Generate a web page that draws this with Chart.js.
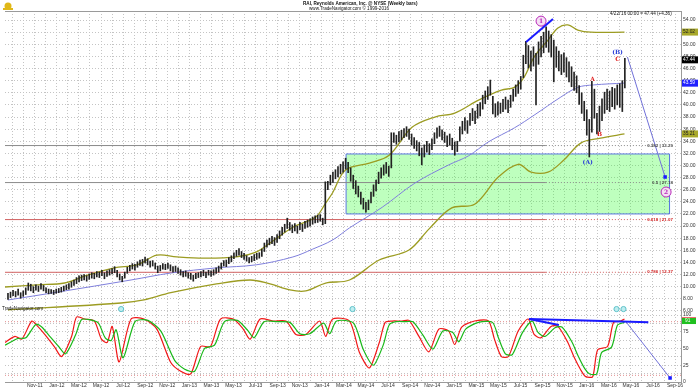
<!DOCTYPE html>
<html>
<head>
<meta charset="utf-8">
<script src="https://cdn.jsdelivr.net/npm/chart.js@4.4.1/dist/chart.umd.min.js"></script>
<style>
html, body { margin: 0; padding: 0; background: #fff; }
</style>
</head>
<body>
<canvas id="myChart" width="700" height="391"></canvas>
<script>
// x unit = months after Nov-11 (Nov-11 = 0, Jan-12 = 2 ...)
var tickLabels = ['Nov-11','Jan-12','Mar-12','May-12','Jul-12','Sep-12','Nov-12','Jan-13','Mar-13','May-13',
    'Jul-13','Sep-13','Nov-13','Jan-14','Mar-14','May-14','Jul-14','Sep-14','Nov-14','Jan-15',
    'Mar-15','May-15','Jul-15','Sep-15','Nov-15','Jan-16','Mar-16','May-16','Jul-16','Sep-16']

// weekly bars, first one mid Sep-11, last one 4/22/16
var firstBar = -2.43
var weekStep = 12 / 52.18
var lows = [
    7.9, 8.2, 8.5, 8.3, 8.6, 8.1, 8.4, 8.7, 9.4, 9.3,
    9.0, 9.4, 9.2, 9.6, 9.3, 9.0, 8.8, 8.9, 8.7, 8.9,
    9.0, 9.1, 9.3, 9.5, 9.6, 9.9, 10.2, 10.5, 10.8, 11.0,
    11.1, 10.9, 11.2, 11.4, 11.3, 11.6, 11.5, 11.8, 11.3, 11.7,
    11.9, 12.1, 12.3, 11.6, 11.1, 10.8, 11.4, 12.2, 12.6, 12.9,
    12.7, 13.2, 13.5, 13.4, 13.9, 13.6, 13.2, 13.4, 12.9, 12.3,
    12.6, 12.9, 12.8, 13.0, 12.6, 12.4, 12.5, 12.2, 11.9, 11.6,
    11.7, 11.4, 11.2, 10.9, 11.3, 11.5, 11.6, 11.8, 11.5, 11.9,
    11.7, 11.9, 12.2, 12.4, 12.9, 13.4, 13.3, 13.8, 14.1, 14.6,
    15.0, 15.2, 14.8, 14.5, 14.2, 13.9, 14.1, 14.3, 14.5, 14.7,
    15.0, 15.8, 16.5, 16.9, 17.1, 16.8, 17.3, 17.9, 18.5, 19.0,
    19.6, 19.3, 18.9, 19.2, 18.8, 19.4, 19.1, 19.6, 19.8, 20.0,
    20.3, 20.5, 20.6, 20.8, 20.2, 20.4, 26.0, 26.8, 27.2, 27.8,
    28.1, 28.6, 28.9, 29.4, 28.8, 27.4, 26.2, 25.3, 24.8, 23.6,
    22.8, 22.3, 22.7, 23.8, 24.9, 25.8, 27.0, 27.9, 28.4, 28.7,
    28.2, 29.6, 33.8, 33.5, 33.9, 34.2, 34.6, 34.8, 34.3, 33.4,
    32.8, 32.4, 31.6, 30.1, 31.4, 32.2, 31.8, 32.6, 33.6, 34.5,
    34.8, 34.2, 33.8, 33.1, 33.4, 32.6, 31.7, 32.3, 34.0, 35.2,
    35.8, 35.3, 36.6, 37.4, 36.9, 37.8, 38.2, 39.3, 40.2, 40.9,
    41.6, 38.5, 38.0, 38.3, 38.6, 38.9, 39.3, 38.7, 39.6, 40.6,
    41.4, 41.9, 42.6, 44.5, 46.8, 46.1, 45.6, 46.4, 40.0, 46.7,
    47.9, 48.6, 49.5, 48.7, 47.9, 43.8, 46.2, 45.6, 45.0, 45.4,
    44.6, 43.8, 43.0, 42.4, 42.0, 40.1, 38.6, 37.4, 35.0, 31.4,
    35.5, 37.8, 35.2, 35.6, 37.4, 38.6, 39.2, 38.9, 39.7, 39.3,
    40.0, 39.6, 38.9, 42.8]
var highs = [
    8.9, 9.1, 9.4, 9.2, 9.6, 9.0, 9.3, 9.8, 10.6, 10.4,
    10.0, 10.3, 10.1, 10.5, 10.2, 9.8, 9.6, 9.5, 9.4, 9.6,
    9.7, 9.9, 10.1, 10.3, 10.5, 10.8, 11.1, 11.5, 11.8, 11.9,
    12.0, 11.8, 12.1, 12.3, 12.2, 12.5, 12.4, 12.7, 12.3, 12.6,
    12.8, 13.0, 13.3, 12.7, 12.1, 11.7, 12.4, 13.2, 13.5, 13.8,
    13.7, 14.1, 14.4, 14.5, 14.9, 14.6, 14.2, 14.3, 13.9, 13.4,
    13.5, 13.8, 13.7, 13.9, 13.6, 13.3, 13.4, 13.1, 12.8, 12.5,
    12.6, 12.3, 12.2, 11.9, 12.2, 12.3, 12.5, 12.7, 12.4, 12.7,
    12.6, 12.8, 13.1, 13.4, 13.9, 14.3, 14.4, 14.8, 15.1, 15.6,
    16.0, 16.3, 15.8, 15.5, 15.1, 14.8, 15.0, 15.3, 15.5, 15.6,
    16.2, 17.2, 17.7, 18.0, 18.3, 18.1, 18.6, 19.2, 19.8, 20.3,
    21.3, 20.6, 20.2, 20.4, 20.0, 20.6, 20.3, 20.8, 21.0, 21.2,
    21.5, 21.7, 21.8, 21.9, 21.3, 27.3, 27.4, 28.4, 28.9, 29.3,
    29.8, 30.2, 30.6, 31.2, 30.5, 29.6, 28.4, 27.5, 26.6, 25.6,
    24.6, 23.9, 24.3, 25.6, 26.8, 27.6, 28.9, 29.6, 30.1, 30.5,
    29.9, 35.4, 35.4, 35.0, 35.6, 35.8, 36.1, 36.4, 36.0, 35.2,
    34.6, 34.1, 33.8, 32.9, 33.4, 34.0, 33.6, 34.4, 35.4, 36.2,
    36.5, 35.9, 35.5, 34.9, 35.2, 34.5, 33.9, 34.0, 36.4, 37.3,
    37.9, 37.4, 38.6, 39.4, 39.0, 40.1, 40.4, 41.6, 42.3, 43.0,
    44.1, 41.4, 40.2, 40.5, 40.3, 40.9, 41.3, 40.8, 41.6, 42.6,
    43.3, 44.0, 44.7, 48.2, 50.5, 49.8, 48.9, 49.6, 48.5, 50.4,
    51.3, 52.0, 52.9, 52.2, 51.6, 50.7, 49.6, 48.9, 48.3, 48.6,
    47.8, 47.1, 46.3, 45.4, 44.8, 43.2, 42.0, 40.6, 39.2, 37.6,
    43.9, 42.6, 38.6, 39.8, 41.0, 42.1, 42.6, 42.3, 42.9, 42.7,
    43.3, 43.5, 44.0, 47.7]

// moving average and the two bands
var maX = [-2.43, 2.07, 8.72, 12.32, 16.46, 20.05, 23.38, 25.18, 26.98, 28.51, 31.47, 34.44, 37.5, 39.3, 41.1, 43.44, 45.23, 47.66, 49.19, 50.63, 53.42]
var maY = [7.8, 9.1, 11.1, 12.25, 13.1, 13.6, 14.9, 16.2, 17.7, 19.7, 23.1, 27.1, 30.1, 31.6, 33.9, 36.2, 38.3, 41.3, 42.9, 43.3, 43.6]
var upX = [-2.7, 0.27, 2.7, 4.77, 7.19, 9.26, 11.06, 12.86, 15.29, 18.26, 20.05, 21.31, 23.38, 25.45, 26.35, 26.98, 28.15, 30.31, 32.1, 34.17, 36.24, 38.04, 40.2, 42.27, 43.44, 44.33, 45.23, 46.49, 47.39, 48.29, 49.19, 50.36, 53.42]
var upY = [9.94, 10.3, 10.6, 11.9, 13.1, 13.6, 15.2, 14.9, 14.7, 14.9, 15.7, 17.2, 19.8, 21.5, 23.8, 25.5, 29.25, 30.4, 31.7, 36.3, 38.0, 38.65, 40.8, 42.45, 42.9, 44.6, 47.9, 50.7, 52.7, 53.2, 52.35, 52.0, 52.0]
var loX = [-2.43, 7.82, 9.89, 12.32, 16.46, 19.51, 21.31, 23.11, 24.55, 26.35, 28.51, 31.2, 33.9, 35.7, 37.77, 39.84, 41.99, 43.79, 44.96, 46.49, 47.93, 49.46, 51.26, 53.42]
var loY = [6.15, 7.3, 7.8, 9.0, 10.45, 11.1, 10.45, 9.45, 9.3, 10.6, 11.1, 14.4, 16.05, 19.5, 23.0, 23.6, 28.1, 30.2, 28.9, 28.9, 30.9, 33.7, 34.5, 35.2]

// stochastic, fast (red) and slow (green)
var kX = [-2.70, -1.80, -1.17, -0.27, 0.27, 0.90, 1.80, 2.43, 3.33, 3.78,
    4.50, 5.40, 6.03, 6.56, 7.01, 7.64, 8.72, 9.89, 11.06, 12.32,
    13.22, 14.12, 15.02, 15.92, 16.82, 17.99, 18.88, 19.51, 20.41, 21.58,
    22.75, 23.65, 24.55, 25.81, 26.35, 26.98, 28.51, 29.41, 30.31, 31.21,
    31.74, 32.37, 33.27, 33.90, 34.80, 35.70, 36.60, 37.50, 38.04, 38.67,
    39.84, 41.10, 41.64, 42.27, 42.90, 43.79, 44.69, 45.23, 45.86, 46.76,
    47.39, 48.29, 48.83, 49.46, 49.91, 50.54, 50.99, 51.89, 52.43, 53.06, 53.42]
var kVal = [59, 68, 64, 91, 83, 71, 52, 38, 68, 97,
    94, 91, 64, 59, 83, 30, 94, 94, 79, 29,
    16, 12, 53, 53, 94, 94, 79, 64, 94, 91,
    91, 71, 71, 91, 68, 94, 91, 44, 21, 59,
    89, 91, 91, 92, 68, 45, 79, 76, 56, 82,
    91, 91, 64, 38, 38, 76, 94, 71, 66, 83,
    83, 59, 38, 18, 8, 8, 48, 53, 89, 91, 94]
var dX = [-2.70, -1.53, -0.81, 0.09, 0.63, 1.26, 2.16, 2.79, 3.69, 4.23,
    4.95, 5.76, 6.38, 6.92, 7.37, 8.00, 9.08, 10.25, 11.42, 12.68,
    13.58, 14.48, 15.38, 16.28, 17.18, 18.35, 19.24, 19.87, 20.77, 21.94,
    23.11, 24.01, 24.91, 26.17, 26.71, 27.34, 28.87, 29.77, 30.67, 31.56,
    32.10, 32.73, 33.63, 34.26, 35.16, 36.06, 36.96, 37.86, 38.40, 39.03,
    40.20, 41.46, 42.00, 42.63, 43.26, 44.15, 45.05, 45.59, 46.22, 47.12,
    47.75, 48.65, 49.19, 49.82, 50.27, 50.90, 51.35, 52.25, 52.79, 53.42]
var dVal = [55, 65, 66, 86, 82, 70, 53, 42, 70, 93,
    93, 88, 66, 62, 78, 36, 90, 92, 76, 32,
    19, 16, 50, 55, 90, 92, 78, 66, 90, 90,
    89, 72, 72, 88, 72, 91, 88, 48, 25, 55,
    85, 90, 90, 90, 70, 49, 76, 74, 60, 79,
    89, 89, 66, 42, 41, 73, 91, 74, 68, 81,
    82, 60, 40, 20, 12, 12, 44, 52, 85, 89]

// fibonacci levels and the green zone
var fibNames = ['0.382', '0.5', '0.618', '0.786']
var fibLevels = [33.29, 27.18, 21.07, 12.37]
var zoneX = [28.2, 57.5]
var zoneY = [22.0, 31.9]

// drawn trend lines / projections
var topLineX = [44.51, 46.94], topLineY = [50.37, 54.17]
var projX = [53.69, 57.1], projY = [47.9, 28.1]
var oscLineX = [44.78, 55.58], oscLineY = [94, 89]
var oscLine2X = [44.78, 47.48], oscLine2Y = [94, 85]
var oscProjX = [53.5, 57.55], oscProjY = [91, 6]
var signalX = [7.82, 28.78, 52.7, 53.33]

// wave labels
var waveText = ['A', 'B', 'C', '(A)', '(B)']
var waveX = [50.54, 51.17, 52.79, 50.09, 52.79]
var waveY = [44.26, 35.19, 47.56, 30.57, 48.72]
var circleText = ['1', '2']
var circleX = [45.86, 57.19]
var circleY = [53.83, 25.62]

// last values shown on the axis
var badgeValues = [52.02, 47.44, 43.59, 35.21]
var oscBadgeValues = [95, 91]

var xMin = -2.7, xMax = 58.54
var priceMin = 5.32, priceMax = 55.5

function pts(xs, ys) {
    return xs.map(function (x, i) { return { x: x, y: ys[i] } })
}
function flat(x0, x1, v) {
    return [{ x: x0, y: v }, { x: x1, y: v }]
}

var bars = lows.map(function (l, i) {
    return { x: firstBar + i * weekStep, y: [l, highs[i]] }
})

var fibColor = ['#8a8a8a', '#8a8a8a', '#d06060', '#d06060']
var fibText = ['#444', '#444', '#d02020', '#d02020']

var datasets = [
    { type: 'line', data: flat(zoneX[0], zoneX[1], zoneY[1]), yAxisID: 'y', borderWidth: 0, pointRadius: 0,
      fill: { target: { value: zoneY[0] } }, backgroundColor: 'rgba(40,255,40,0.3)', order: 20 },
    { type: 'line', data: [{ x: zoneX[0], y: zoneY[0] }, { x: zoneX[0], y: zoneY[1] }, { x: zoneX[1], y: zoneY[1] }, { x: zoneX[1], y: zoneY[0] }, { x: zoneX[0], y: zoneY[0] }],
      yAxisID: 'y', borderColor: '#5a78e0', borderWidth: 1, pointRadius: 0, fill: false, order: 19 },
    { type: 'bar', data: bars, yAxisID: 'y', backgroundColor: '#222', barThickness: 1, grouped: false, order: 1 },
    { type: 'line', data: pts(maX, maY), yAxisID: 'y', borderColor: '#7f7fdc', borderWidth: 1, pointRadius: 0, tension: 0.35, order: 5 },
    { type: 'line', data: pts(upX, upY), yAxisID: 'y', borderColor: '#9c9c22', borderWidth: 1.3, pointRadius: 0, tension: 0.35, order: 5 },
    { type: 'line', data: pts(loX, loY), yAxisID: 'y', borderColor: '#9c9c22', borderWidth: 1.3, pointRadius: 0, tension: 0.35, order: 5 },
    { type: 'line', data: pts(topLineX, topLineY), yAxisID: 'y', borderColor: '#1a1aff', borderWidth: 2, pointRadius: 0, order: 0 },
    { type: 'line', data: pts(projX, projY), yAxisID: 'y', borderColor: '#7070d8', borderWidth: 1, pointRadius: [0, 2.5],
      pointStyle: 'rect', pointBackgroundColor: '#1a1aff', pointBorderWidth: 0, order: 0 },
    { type: 'line', data: pts(kX, kVal), yAxisID: 'y2', borderColor: '#f01818', borderWidth: 1.2, pointRadius: 0, tension: 0.25, order: 3 },
    { type: 'line', data: pts(dX, dVal), yAxisID: 'y2', borderColor: '#18b818', borderWidth: 1.2, pointRadius: 0, tension: 0.25, order: 2 },
    { type: 'line', data: flat(xMin, xMax, 90), yAxisID: 'y2', borderColor: '#e08a8a', borderWidth: 1, borderDash: [1, 2], pointRadius: 0, order: 6 },
    { type: 'line', data: flat(xMin, xMax, 10), yAxisID: 'y2', borderColor: '#e08a8a', borderWidth: 1, borderDash: [1, 2], pointRadius: 0, order: 6 },
    { type: 'line', data: pts(oscLineX, oscLineY), yAxisID: 'y2', borderColor: '#1a1aff', borderWidth: 2, pointRadius: 0, order: 0 },
    { type: 'line', data: pts(oscLine2X, oscLine2Y), yAxisID: 'y2', borderColor: '#1a1aff', borderWidth: 2, pointRadius: 0, order: 0 },
    { type: 'line', data: pts(oscProjX, oscProjY), yAxisID: 'y2', borderColor: '#7070d8', borderWidth: 1, pointRadius: [0, 2.5],
      pointStyle: 'rect', pointBackgroundColor: '#1a1aff', pointBorderWidth: 0, order: 0 },
    { type: 'scatter', data: signalX.map(function (x) { return { x: x, y: 6.3 } }), yAxisID: 'y', pointRadius: 2.6,
      backgroundColor: '#bfeef0', borderColor: '#5cc0c8', borderWidth: 1, order: 0 }
]
fibLevels.forEach(function (lv, i) {
    datasets.push({ type: 'line', data: flat(xMin, 46.3, lv), yAxisID: 'y', borderColor: fibColor[i], borderWidth: 1, pointRadius: 0, order: 8 })
    datasets.push({ type: 'line', data: flat(46.3, 55.6, lv), yAxisID: 'y', borderColor: fibColor[i], borderWidth: 1, borderDash: [1, 2], pointRadius: 0, order: 8 })
})

var overlay = {
    id: 'overlay',
    afterDraw: function (chart) {
        var c = chart.ctx, x = chart.scales.x, y = chart.scales.y, y2 = chart.scales.y2, a = chart.chartArea
        c.save()
        // frame top
        c.strokeStyle = '#9a9a9a'
        c.lineWidth = 1
        c.beginPath(); c.moveTo(a.left, a.top + 0.5); c.lineTo(a.right, a.top + 0.5); c.stroke()

        // header
        c.fillStyle = '#e0b818'
        c.beginPath(); c.arc(8, 6, 3.5, 0, Math.PI * 2); c.fill()
        c.fillRect(3, 8, 10, 2)
        c.fillStyle = '#111'
        c.font = 'bold 4.6px "Liberation Sans"'
        c.textBaseline = 'middle'
        c.fillText('RAI, Reynolds American, Inc. @ NYSE (Weekly bars)', 303, 4)
        c.font = '4.6px "Liberation Sans"'
        c.fillText('www.TradeNavigator.com \u00a9 1999-2016', 309, 9)
        c.fillText("4/22/'16 00:00 = 47.44 (+4.36)", 610, 14)
        c.fillText('TradeNavigator.com', 2, 309)

        // fib labels
        c.textAlign = 'right'
        c.font = 'bold 4.4px "Liberation Sans"'
        fibLevels.forEach(function (lv, i) {
            c.fillStyle = fibText[i]
            c.fillText(fibNames[i] + ' | ' + lv.toFixed(2), x.getPixelForValue(57.8), y.getPixelForValue(lv))
        })

        // wave labels
        c.textAlign = 'center'
        c.font = 'bold 6px "DejaVu Serif"'
        waveText.forEach(function (t, i) {
            c.fillStyle = t.charAt(0) === '(' ? '#2a3ed8' : '#e02020'
            c.fillText(t, x.getPixelForValue(waveX[i]), y.getPixelForValue(waveY[i]))
        })
        circleText.forEach(function (t, i) {
            var px = x.getPixelForValue(circleX[i]), py = y.getPixelForValue(circleY[i])
            c.fillStyle = '#f4e0f4'
            c.strokeStyle = '#b828b8'
            c.lineWidth = 1
            c.beginPath(); c.arc(px, py, 5, 0, Math.PI * 2); c.fill(); c.stroke()
            c.fillStyle = '#b828b8'
            c.font = 'bold 6px "DejaVu Serif"'
            c.fillText(t, px, py + 0.5)
        })

        // axis badges
        var bg = ['#a8a82a', '#000', '#2020ff', '#a8a82a'], fg = ['#222', '#fff', '#fff', '#222']
        c.textAlign = 'left'
        c.font = '4.8px "Liberation Sans"'
        badgeValues.forEach(function (v, i) {
            var py = y.getPixelForValue(v)
            c.fillStyle = bg[i]
            c.fillRect(a.right + 1, py - 3.5, 16, 7)
            c.fillStyle = fg[i]
            c.fillText(v.toFixed(2), a.right + 2, py)
        })
        var obg = ['#e02020', '#20c020']
        oscBadgeValues.forEach(function (v, i) {
            var py = y2.getPixelForValue(v)
            c.fillStyle = obg[i]
            c.fillRect(a.right + 1, py - (i ? 3 : 1), 14, i ? 6 : 2)
        })
        c.fillStyle = '#fff'
        c.fillText(String(oscBadgeValues[1]), a.right + 4, y2.getPixelForValue(oscBadgeValues[1]))
        c.restore()
    }
}

var gridStyle = { color: '#c4c4c4', drawTicks: false }
var ctx = document.getElementById('myChart')
new Chart(ctx, {
    type: 'bar',
    data: { datasets: datasets },
    options: {
        responsive: false,
        animation: false,
        events: [],
        layout: { padding: { top: 11, left: 0, right: 0, bottom: 0 } },
        plugins: { legend: { display: false }, tooltip: { enabled: false } },
        scales: {
            x: {
                type: 'linear', min: xMin, max: xMax, offset: false,
                grid: { color: '#c4c4c4', drawTicks: false, offset: false },
                border: { display: true, color: '#9a9a9a', dash: [1, 2] },
                ticks: {
                    stepSize: 1, autoSkip: false, maxRotation: 0, includeBounds: false, padding: 1,
                    color: '#333', font: { size: 5, family: 'Liberation Sans' },
                    callback: function (v) { return (v >= 0 && v % 2 === 0) ? tickLabels[v / 2] : '' }
                },
                afterFit: function (s) { s.height = 9 }
            },
            y: {
                type: 'linear', position: 'right', stack: 'panels', stackWeight: 304,
                min: priceMin, max: priceMax,
                grid: gridStyle,
                border: { display: true, color: '#9a9a9a', dash: [1, 2] },
                ticks: { stepSize: 2, includeBounds: false, autoSkip: false, padding: 2, color: '#333',
                    font: { size: 5, family: 'Liberation Sans' },
                    callback: function (v) { return v.toFixed(2) } },
                afterFit: function (s) { s.width = 19 }
            },
            y2: {
                type: 'linear', position: 'right', stack: 'panels', stackWeight: 67,
                min: 0, max: 100,
                grid: gridStyle,
                border: { display: true, color: '#9a9a9a', dash: [1, 2] },
                ticks: { stepSize: 12.5, autoSkip: false, padding: 2, color: '#333',
                    font: { size: 5, family: 'Liberation Sans' },
                    callback: function (v) { return v % 25 === 0 ? String(v) : '' } },
                afterFit: function (s) { s.width = 19 }
            }
        }
    },
    plugins: [overlay]
})
</script>
</body>
</html>
